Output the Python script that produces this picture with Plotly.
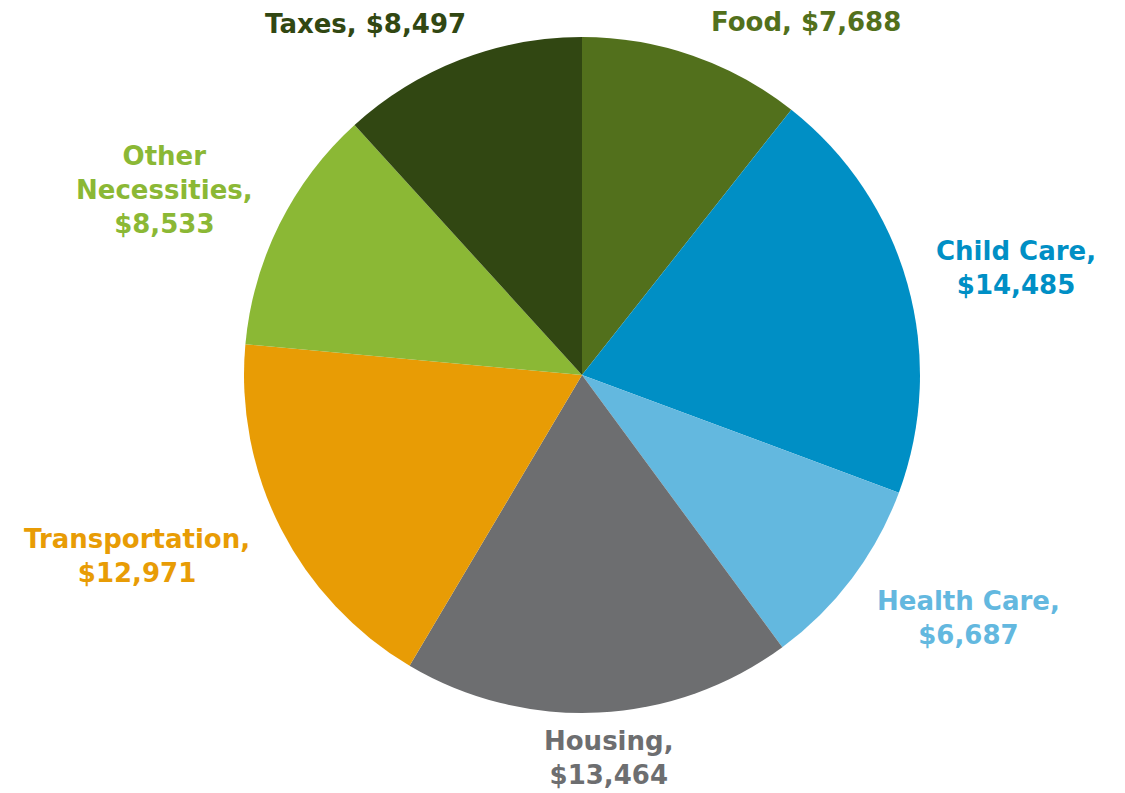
import plotly.graph_objects as go

categories = ["Food", "Child Care", "Health Care", "Housing", "Transportation", "Other Necessities", "Taxes"]
values = [7688, 14485, 6687, 13464, 12971, 8533, 8497]
label_text = [
    "Food, $7,688",
    "Child Care,<br>$14,485",
    "Health Care,<br>$6,687",
    "Housing,<br>$13,464",
    "Transportation,<br>$12,971",
    "Other<br>Necessities,<br>$8,533",
    "Taxes, $8,497",
]
colors = ["#52701C", "#008FC5", "#63B8DF", "#6D6E70", "#E89C05", "#8BB835", "#314712"]

W, H = 1125, 793
cx, cy, r = 574, 367, 338  # page has an 8px body offset

# label block centres in pixels (from the top-left of the figure)
label_pos = [(798, 14), (1008, 260), (960, 610), (601, 750), (129, 548), (156, 182), (357, 16)]

fig = go.Figure(go.Pie(
    labels=categories,
    values=values,
    textinfo="none",
    sort=False,
    direction="clockwise",
    rotation=0,
    marker=dict(colors=colors, line=dict(width=0)),
    showlegend=False,
    automargin=False,
    domain=dict(x=[(cx - r) / W, (cx + r) / W], y=[(H - cy - r) / H, (H - cy + r) / H]),
))
for txt, col, (px, py) in zip(label_text, colors, label_pos):
    fig.add_annotation(
        x=px / W, y=1 - py / H, xref="paper", yref="paper",
        xanchor="center", yanchor="middle", align="center",
        text=txt, showarrow=False,
        font=dict(family="DejaVu Sans", size=26, color=col, weight="bold"),
    )
fig.update_layout(
    width=W, height=H,
    margin=dict(l=0, r=0, t=0, b=0),
    paper_bgcolor="white",
    plot_bgcolor="white",
)
fig.write_html("out.html")
